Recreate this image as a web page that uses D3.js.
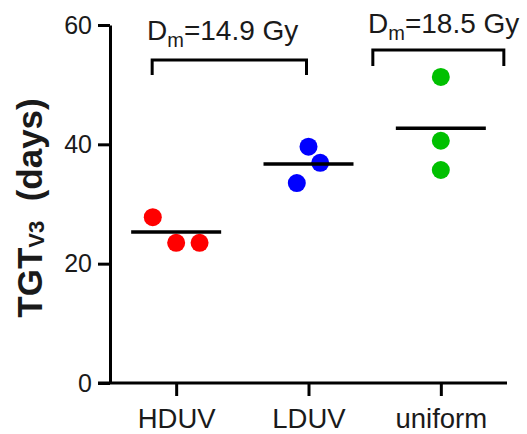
<!DOCTYPE html>
<html>
<head>
<meta charset="utf-8">
<script src="https://cdn.jsdelivr.net/npm/d3@7"></script>
<style>
  body { margin: 0; background: #fff; }
  svg text { font-family: "Liberation Sans", Arial, sans-serif; fill: #1a1a1a; }
</style>
</head>
<body>
<svg id="chart" width="527" height="434"></svg>
<script>
// groups and values
var groups = ["HDUV", "LDUV", "uniform"]
var colors = ["#ff0000", "#0000ff", "#00c000"]
var hduv = [27.8, 23.5, 23.5]
var lduv = [39.6, 36.9, 33.5]
var uniform = [51.3, 40.6, 35.7]
var means = [25.3, 36.7, 42.7]
// horizontal jitter of each dot, in dot widths
var jitter = [[-1.3, 0, 1.3], [0, 0.65, -0.65], [0, 0, 0]]
var yTicks = [0, 20, 40, 60]
var doses = ["14.9", "18.5"]

var values = [hduv, lduv, uniform]

var svg = d3.select("svg#chart")

var x = d3.scalePoint().domain(groups).range([110, 507]).padding(0.5)
var y = d3.scaleLinear().domain([0, 60]).range([383, 25])

var r = 9

// y axis
var yAxis = svg.append("g")
    .attr("transform", "translate(110,0)")
    .call(d3.axisLeft(y).tickValues(yTicks).tickSize(12).tickPadding(6).tickSizeOuter(0))
yAxis.select(".domain").attr("stroke", "#000").attr("stroke-width", 3)
yAxis.selectAll(".tick line").attr("stroke", "#000").attr("stroke-width", 3)
yAxis.selectAll(".tick text")
    .attr("font-size", "25px")
    .attr("font-family", "Liberation Sans, Arial, sans-serif")
    .attr("fill", "#1a1a1a")

// x axis
var xAxis = svg.append("g")
    .attr("transform", "translate(0,383)")
    .call(d3.axisBottom(x).tickSize(13).tickPadding(12).tickSizeOuter(0))
xAxis.select(".domain").remove()
xAxis.append("line")
    .attr("x1", 98).attr("x2", 507)
    .attr("stroke", "#000").attr("stroke-width", 3)
xAxis.selectAll(".tick line").attr("stroke", "#000").attr("stroke-width", 3)
xAxis.selectAll(".tick text")
    .attr("font-size", "27.5px")
    .attr("font-family", "Liberation Sans, Arial, sans-serif")
    .attr("fill", "#1a1a1a")

// y title
var title = svg.append("text")
    .attr("transform", "translate(42,208) rotate(-90)")
    .attr("text-anchor", "middle")
    .attr("font-size", "35px")
    .attr("font-weight", "bold")
title.append("tspan").text("TGT")
title.append("tspan").attr("font-size", "22px").attr("dy", 2).text("V3")
title.append("tspan").attr("dy", -2).text("\u00a0 (days)")

// dots
groups.forEach(function(g, i) {
    svg.append("g")
        .selectAll("circle")
        .data(values[i])
        .join("circle")
        .attr("cx", function(d, j) { return x(g) + jitter[i][j] * 2 * r; })
        .attr("cy", function(d) { return y(d); })
        .attr("r", r)
        .attr("fill", colors[i])
})

// mean lines
svg.append("g")
    .selectAll("line")
    .data(means)
    .join("line")
    .attr("x1", function(d, i) { return x(groups[i]) - 45; })
    .attr("x2", function(d, i) { return x(groups[i]) + 45; })
    .attr("y1", function(d) { return y(d); })
    .attr("y2", function(d) { return y(d); })
    .attr("stroke", "#000")
    .attr("stroke-width", 3.5)

// brackets with dose labels
var brackets = [
    {x1: x("HDUV") - 24, x2: x("LDUV") - 2, top: 60, drop: 15, tx: 147, ty: 40},
    {x1: x("uniform") - 68, x2: x("uniform") + 63, top: 50, drop: 16, tx: 368, ty: 33}
]
brackets.forEach(function(b, i) {
    svg.append("path")
        .attr("d", "M" + b.x1 + "," + (b.top + b.drop) + "V" + b.top + "H" + b.x2 + "V" + (b.top + b.drop))
        .attr("fill", "none")
        .attr("stroke", "#000")
        .attr("stroke-width", 3)
    var t = svg.append("text")
        .attr("x", b.tx)
        .attr("y", b.ty)
        .attr("font-size", "28px")
    t.append("tspan").text("D")
    t.append("tspan").attr("font-size", "20px").attr("dy", 7).text("m")
    t.append("tspan").attr("dy", -7).text("=" + doses[i] + " Gy")
})
</script>
</body>
</html>
